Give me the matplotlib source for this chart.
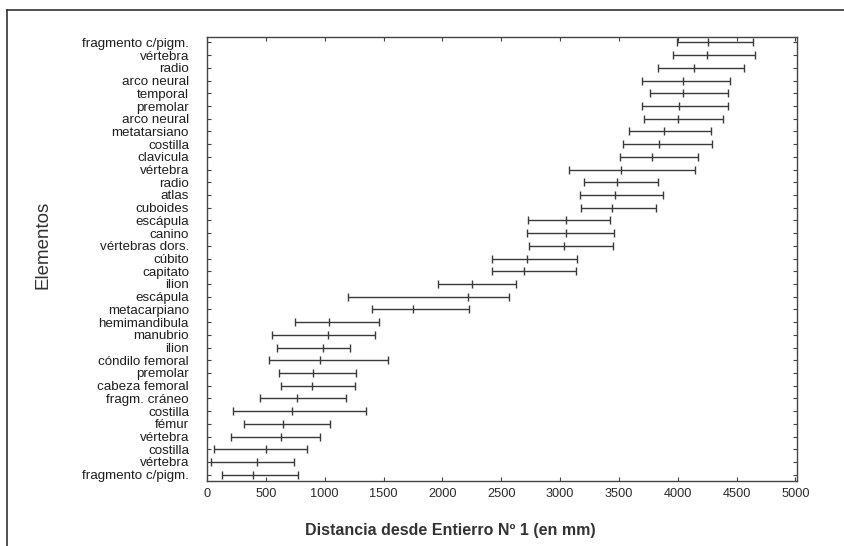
import numpy as np
import matplotlib
matplotlib.use('Agg')
import matplotlib.pyplot as plt

# elementos de arriba hacia abajo
elementos = ['fragmento c/pigm.', 'vértebra', 'radio', 'arco neural', 'temporal',
             'premolar', 'arco neural', 'metatarsiano', 'costilla', 'clavicula',
             'vértebra', 'radio', 'atlas', 'cuboides', 'escápula', 'canino',
             'vértebras dors.', 'cúbito', 'capitato', 'ilion', 'escápula',
             'metacarpiano', 'hemimandibula', 'manubrio', 'ilion', 'cóndilo femoral',
             'premolar', 'cabeza femoral', 'fragm. cráneo', 'costilla', 'fémur',
             'vértebra', 'costilla', 'vértebra', 'fragmento c/pigm.']

inicio = [3992, 3963, 3836, 3700, 3765, 3695, 3714, 3589, 3538, 3510,
          3079, 3207, 3170, 3176, 2730, 2719, 2734, 2419, 2419, 1963,
          1195, 1404, 747, 554, 599, 523, 611, 628, 449, 217,
          313, 200, 58, 38, 128]

media = [4261, 4247, 4139, 4048, 4048, 4009, 4006, 3884, 3842, 3785,
         3519, 3482, 3468, 3445, 3048, 3048, 3037, 2722, 2696, 2249,
         2220, 1747, 1038, 1030, 982, 959, 902, 894, 761, 724,
         642, 628, 500, 429, 392]

fin = [4635, 4656, 4559, 4446, 4423, 4423, 4383, 4284, 4290, 4171,
       4148, 3836, 3873, 3814, 3428, 3459, 3448, 3145, 3136, 2626,
       2566, 2226, 1461, 1427, 1214, 1540, 1265, 1257, 1178, 1348,
       1044, 959, 851, 741, 770]

xticks = [0, 500, 1000, 1500, 2000, 2500, 3000, 3500, 4000, 4500, 5000]

plt.rcParams['font.family'] = ['Liberation Sans', 'DejaVu Sans']

fig = plt.figure(figsize=(8.44, 5.46), dpi=100)
ax = fig.add_axes([207 / 844, 1 - 481 / 546, 590 / 844, 444 / 546])

y = np.arange(len(elementos))
lo = np.array(media) - np.array(inicio)
hi = np.array(fin) - np.array(media)
ax.errorbar(media, y, xerr=[lo, hi], fmt='|', color='#3a3a3a', ecolor='#3a3a3a',
            elinewidth=1.0, capsize=2.6, capthick=1.0, markersize=5.5, mew=1.0)

ax.set_xlim(0, 5013)
ax.set_ylim(34.5, -0.43)
ax.set_xticks(xticks)
ax.set_xticklabels([str(t) for t in xticks], fontsize=9.2)
ax.set_yticks(y)
ax.set_yticklabels(elementos, fontsize=9.6)

ax.tick_params(axis='x', direction='in', length=3, width=0.8, top=True, pad=5,
               colors='#444444', labelcolor='#2a2a2a')
ax.tick_params(axis='y', direction='in', length=3, width=0.8, right=True, pad=13,
               colors='#444444', labelcolor='#1e1e1e')
for s in ax.spines.values():
    s.set_color('#444444')
    s.set_linewidth(1.0)

fig.text(43 / 844, 1 - 245 / 546, 'Elementos', rotation=90, ha='center', va='center',
         fontsize=13.5, color='#333333')
fig.text(450 / 844, 1 - 530 / 546, 'Distancia desde Entierro Nº 1 (en mm)',
         ha='center', va='center', fontsize=11.5, fontweight='bold', color='#333333')

# marco exterior (solo lados superior e izquierdo visibles)
fig.add_artist(plt.Line2D([7 / 844, 1.0], [1 - 10 / 546, 1 - 10 / 546],
                          transform=fig.transFigure, color='#333333', lw=1.2))
fig.add_artist(plt.Line2D([7 / 844, 7 / 844], [0.0, 1 - 10 / 546],
                          transform=fig.transFigure, color='#333333', lw=1.2))

fig.savefig('out.png', dpi=100)
